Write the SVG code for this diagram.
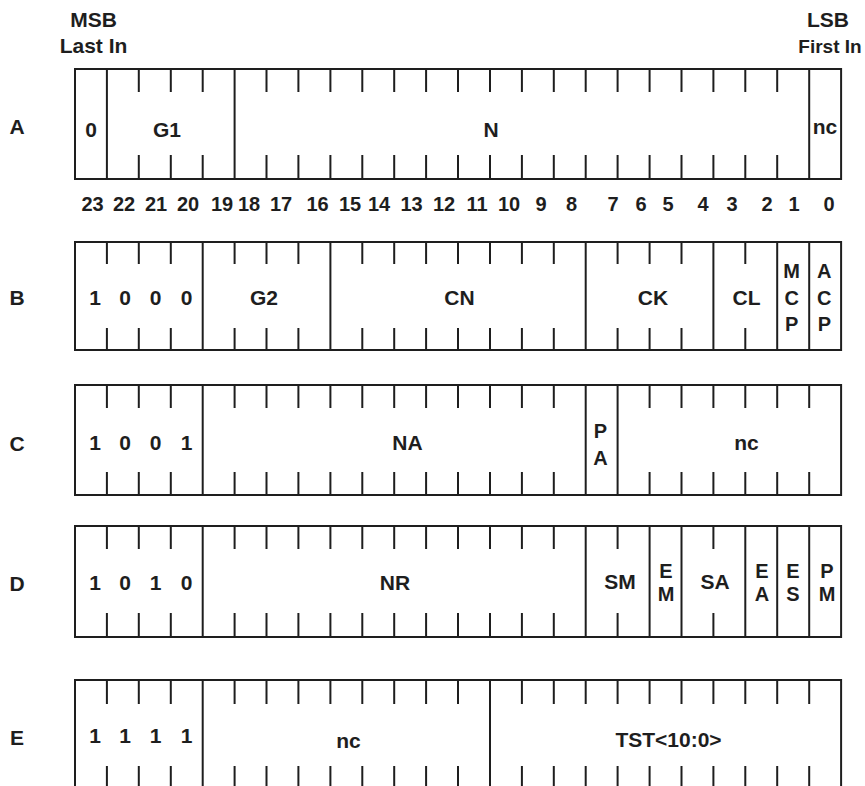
<svg xmlns="http://www.w3.org/2000/svg" width="865" height="786" viewBox="0 0 865 786">
<style>
.box{fill:#fff;stroke:#1e1e1e;stroke-width:2}
.ln{stroke:#1e1e1e;stroke-width:2;fill:none}
.t{font-family:"Liberation Sans",Arial,sans-serif;font-weight:bold;font-size:21px;fill:#1e1e1e;text-anchor:middle}
.n{font-size:20px}
.s{font-size:20px}
</style>
<rect width="865" height="786" fill="#fff"/>
<g id="header">
<text class="t" x="93.5" y="27">MSB</text>
<text class="t" x="93.5" y="53">Last In</text>
<text class="t" x="828" y="27">LSB</text>
<text class="t" x="830" y="53" style="font-size:19px">First In</text>
</g>
<g id="rowA">
<rect class="box" x="75" y="69" width="766.1" height="110"/>
<path class="ln" d="M106.9 69V179M234.6 69V179M809.2 69V179"/>
<path class="ln" d="M138.8 69v23M170.8 69v23M202.7 69v23M266.5 69v23M298.4 69v23M330.4 69v23M362.3 69v23M394.2 69v23M426.1 69v23M458 69v23M490 69v23M521.9 69v23M553.8 69v23M585.7 69v23M617.6 69v23M649.6 69v23M681.5 69v23M713.4 69v23M745.3 69v23M777.2 69v23"/>
<path class="ln" d="M138.8 179v-24M170.8 179v-24M202.7 179v-24M266.5 179v-24M298.4 179v-24M330.4 179v-24M362.3 179v-24M394.2 179v-24M426.1 179v-24M458 179v-24M490 179v-24M521.9 179v-24M553.8 179v-24M585.7 179v-24M617.6 179v-24M649.6 179v-24M681.5 179v-24M713.4 179v-24M745.3 179v-24M777.2 179v-24"/>
<text class="t" x="17" y="134">A</text>
<text class="t" x="91" y="137">0</text>
<text class="t" x="167" y="137">G1</text>
<text class="t" x="491" y="137">N</text>
<text class="t" x="825" y="134">nc</text>
</g>
<g id="bits">
<text class="t n" x="92.5" y="211">23</text>
<text class="t n" x="124" y="211">22</text>
<text class="t n" x="156" y="211">21</text>
<text class="t n" x="188" y="211">20</text>
<text class="t n" x="222" y="211">19</text>
<text class="t n" x="249" y="211">18</text>
<text class="t n" x="281" y="211">17</text>
<text class="t n" x="317.5" y="211">16</text>
<text class="t n" x="350" y="211">15</text>
<text class="t n" x="379" y="211">14</text>
<text class="t n" x="411.5" y="211">13</text>
<text class="t n" x="444" y="211">12</text>
<text class="t n" x="477" y="211">11</text>
<text class="t n" x="509" y="211">10</text>
<text class="t n" x="541" y="211">9</text>
<text class="t n" x="571.5" y="211">8</text>
<text class="t n" x="613" y="211">7</text>
<text class="t n" x="641" y="211">6</text>
<text class="t n" x="668" y="211">5</text>
<text class="t n" x="703" y="211">4</text>
<text class="t n" x="732" y="211">3</text>
<text class="t n" x="767" y="211">2</text>
<text class="t n" x="794" y="211">1</text>
<text class="t n" x="829" y="211">0</text>
</g>
<g id="rowB">
<rect class="box" x="75" y="242" width="766.1" height="108"/>
<path class="ln" d="M202.7 242V350M330.4 242V350M585.7 242V350M713.4 242V350M777.2 242V350M809.2 242V350"/>
<path class="ln" d="M106.9 242v22M138.8 242v22M170.8 242v22M234.6 242v22M266.5 242v22M298.4 242v22M362.3 242v22M394.2 242v22M426.1 242v22M458 242v22M490 242v22M521.9 242v22M553.8 242v22M617.6 242v22M649.6 242v22M681.5 242v22M745.3 242v22"/>
<path class="ln" d="M106.9 350v-22M138.8 350v-22M170.8 350v-22M234.6 350v-22M266.5 350v-22M298.4 350v-22M362.3 350v-22M394.2 350v-22M426.1 350v-22M458 350v-22M490 350v-22M521.9 350v-22M553.8 350v-22M617.6 350v-22M649.6 350v-22M681.5 350v-22M745.3 350v-22"/>
<text class="t" x="17" y="305">B</text>
<text class="t" x="95" y="305">1</text>
<text class="t" x="125" y="305">0</text>
<text class="t" x="155.7" y="305">0</text>
<text class="t" x="186.7" y="305">0</text>
<text class="t" x="264" y="305">G2</text>
<text class="t" x="459.5" y="305">CN</text>
<text class="t" x="653" y="305">CK</text>
<text class="t" x="746.5" y="305">CL</text>
<text class="t s" x="791.7" y="278">M</text>
<text class="t s" x="791.7" y="305">C</text>
<text class="t s" x="791.7" y="331">P</text>
<text class="t s" x="824.3" y="278">A</text>
<text class="t s" x="824.3" y="305">C</text>
<text class="t s" x="824.3" y="331">P</text>
</g>
<g id="rowC">
<rect class="box" x="75" y="385" width="766.1" height="110"/>
<path class="ln" d="M202.7 385V495M585.7 385V495M617.6 385V495"/>
<path class="ln" d="M106.9 385v23M138.8 385v23M170.8 385v23M234.6 385v23M266.5 385v23M298.4 385v23M330.4 385v23M362.3 385v23M394.2 385v23M426.1 385v23M458 385v23M490 385v23M521.9 385v23M553.8 385v23M649.6 385v23M681.5 385v23M713.4 385v23M745.3 385v23M777.2 385v23M809.2 385v23"/>
<path class="ln" d="M106.9 495v-23M138.8 495v-23M170.8 495v-23M234.6 495v-23M266.5 495v-23M298.4 495v-23M330.4 495v-23M362.3 495v-23M394.2 495v-23M426.1 495v-23M458 495v-23M490 495v-23M521.9 495v-23M553.8 495v-23M649.6 495v-23M681.5 495v-23M713.4 495v-23M745.3 495v-23M777.2 495v-23M809.2 495v-23"/>
<text class="t" x="17" y="451">C</text>
<text class="t" x="95" y="450">1</text>
<text class="t" x="125" y="450">0</text>
<text class="t" x="155.7" y="450">0</text>
<text class="t" x="186.7" y="450">1</text>
<text class="t" x="407.5" y="450">NA</text>
<text class="t s" x="600.5" y="438">P</text>
<text class="t s" x="600.5" y="465">A</text>
<text class="t" x="746.5" y="450">nc</text>
</g>
<g id="rowD">
<rect class="box" x="75" y="526" width="766.1" height="111"/>
<path class="ln" d="M202.7 526V637M585.7 526V637M649.6 526V637M681.5 526V637M745.3 526V637M777.2 526V637M809.2 526V637"/>
<path class="ln" d="M106.9 526v23M138.8 526v23M170.8 526v23M234.6 526v23M266.5 526v23M298.4 526v23M330.4 526v23M362.3 526v23M394.2 526v23M426.1 526v23M458 526v23M490 526v23M521.9 526v23M553.8 526v23M617.6 526v23M713.4 526v23"/>
<path class="ln" d="M106.9 637v-24M138.8 637v-24M170.8 637v-24M234.6 637v-24M266.5 637v-24M298.4 637v-24M330.4 637v-24M362.3 637v-24M394.2 637v-24M426.1 637v-24M458 637v-24M490 637v-24M521.9 637v-24M553.8 637v-24M617.6 637v-24M713.4 637v-24"/>
<text class="t" x="17" y="591">D</text>
<text class="t" x="95" y="590">1</text>
<text class="t" x="125" y="590">0</text>
<text class="t" x="155.7" y="590">1</text>
<text class="t" x="186.7" y="590">0</text>
<text class="t" x="395" y="590">NR</text>
<text class="t" x="620" y="589">SM</text>
<text class="t s" x="666" y="578">E</text>
<text class="t s" x="666" y="601">M</text>
<text class="t" x="715" y="589">SA</text>
<text class="t s" x="762" y="578">E</text>
<text class="t s" x="762" y="601">A</text>
<text class="t s" x="793" y="578">E</text>
<text class="t s" x="793" y="601">S</text>
<text class="t s" x="827" y="578">P</text>
<text class="t s" x="827" y="601">M</text>
</g>
<g id="rowE">
<rect class="box" x="75" y="680" width="766.1" height="130"/>
<path class="ln" d="M202.7 680V800M490 680V800"/>
<path class="ln" d="M106.9 680v24M138.8 680v24M170.8 680v24M234.6 680v24M266.5 680v24M298.4 680v24M330.4 680v24M362.3 680v24M394.2 680v24M426.1 680v24M458 680v24M521.9 680v24M553.8 680v24M585.7 680v24M617.6 680v24M649.6 680v24M681.5 680v24M713.4 680v24M745.3 680v24M777.2 680v24M809.2 680v24"/>
<path class="ln" d="M106.9 766V800M138.8 766V800M170.8 766V800M234.6 766V800M266.5 766V800M298.4 766V800M330.4 766V800M362.3 766V800M394.2 766V800M426.1 766V800M458 766V800M521.9 766V800M553.8 766V800M585.7 766V800M617.6 766V800M649.6 766V800M681.5 766V800M713.4 766V800M745.3 766V800M777.2 766V800M809.2 766V800"/>
<text class="t" x="17" y="745">E</text>
<text class="t" x="95" y="743">1</text>
<text class="t" x="125" y="743">1</text>
<text class="t" x="155.7" y="743">1</text>
<text class="t" x="186.7" y="743">1</text>
<text class="t" x="348.5" y="748">nc</text>
<text class="t" x="668.5" y="747">TST&lt;10:0&gt;</text>
</g>
</svg>
